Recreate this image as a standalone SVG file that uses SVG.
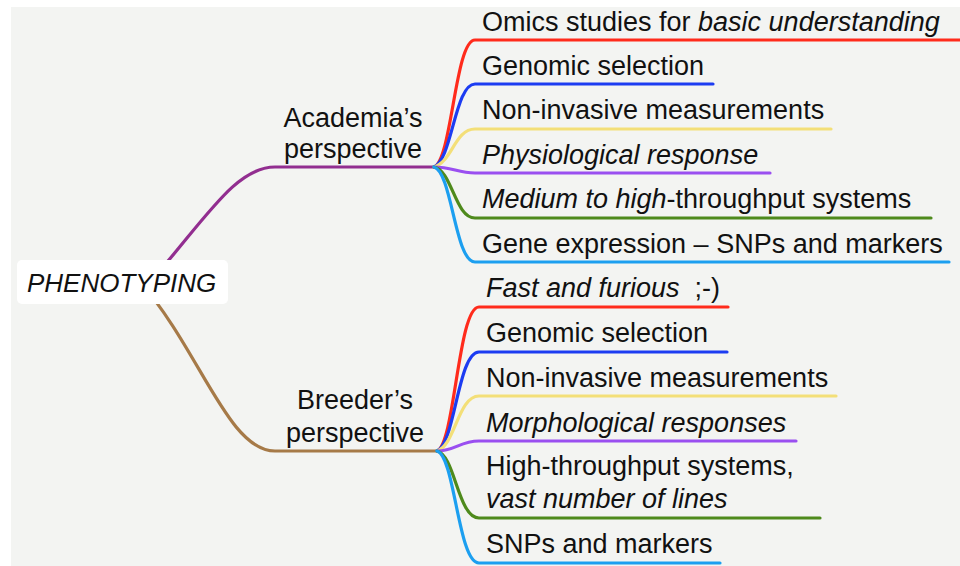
<svg xmlns="http://www.w3.org/2000/svg" width="960" height="566" viewBox="0 0 960 566">
  <style>
    text { font-family: "Liberation Sans", Arial, Helvetica, sans-serif; font-size: 27px; fill: #111; }
    .it { font-style: italic; }
    .mid { text-anchor: middle; }
    .root { font-size: 26px; }
    .link { fill: none; stroke-width: 3.2; stroke-linecap: round; stroke-linejoin: round; }
    .red { stroke: #ff2b1c; }
    .blue { stroke: #1c3cf2; }
    .yellow { stroke: #f3df78; }
    .violet { stroke: #9a4ff0; }
    .green { stroke: #4e8a1c; }
    .sky { stroke: #1c9ff0; }
  </style>

  <!-- canvas -->
  <rect width="960" height="566" fill="#ffffff"/>
  <rect x="11" y="7" width="949" height="559" fill="#f3f4f2"/>

  <!-- connectors -->
  <g id="connectors">
    <!-- root to perspectives -->
    <path class="link" stroke="#922e90" d="M 150 282 C 205 220, 235 167, 275 167 H 434"/>
    <path class="link" stroke="#a67a48" d="M 140 282 C 200 350, 228 451, 275 451 H 437"/>

    <!-- academia branches -->
    <path class="link red" d="M 434 167 C 452 160, 455 40, 475 40 H 960"/>
    <path class="link blue" d="M 434 167 C 452 160, 455 84, 475 84 H 713"/>
    <path class="link yellow" d="M 434 167 C 452 162, 455 129, 475 129 H 831"/>
    <path class="link violet" d="M 434 167 C 452 167, 458 173, 475 173 H 770"/>
    <path class="link green" d="M 434 167 C 452 170, 455 218, 475 218 H 931"/>
    <path class="link sky" d="M 434 167 C 452 172, 455 262, 475 262 H 949"/>

    <!-- breeder branches -->
    <path class="link red" d="M 437 451 C 455 444, 458 307, 479 307 H 728"/>
    <path class="link blue" d="M 437 451 C 455 444, 458 352, 479 352 H 727"/>
    <path class="link yellow" d="M 437 451 C 455 446, 458 396, 479 396 H 836"/>
    <path class="link violet" d="M 437 451 C 455 451, 460 441, 479 441 H 796"/>
    <path class="link green" d="M 437 451 C 455 455, 458 518, 479 518 H 820"/>
    <path class="link sky" d="M 437 451 C 455 456, 458 563, 479 563 H 720"/>
  </g>

  <!-- root -->
  <g id="root">
    <rect x="17" y="260" width="211" height="44" rx="5" fill="#ffffff"/>
    <text class="it root" x="27" y="292">PHENOTYPING</text>
  </g>

  <!-- perspectives -->
  <g id="academia">
    <text class="mid" x="353" y="127">Academia’s</text>
    <text class="mid" x="353" y="158">perspective</text>
  </g>
  <g id="breeder">
    <text class="mid" x="355" y="409">Breeder’s</text>
    <text class="mid" x="355" y="442">perspective</text>
  </g>

  <!-- academia topics -->
  <g id="a-omics"><text x="482" y="31">Omics studies for <tspan class="it">basic understanding</tspan></text></g>
  <g id="a-genomic"><text x="482" y="75">Genomic selection</text></g>
  <g id="a-noninvasive"><text x="482" y="119">Non-invasive measurements</text></g>
  <g id="a-physiological"><text class="it" x="482" y="164">Physiological response</text></g>
  <g id="a-throughput"><text x="482" y="208"><tspan class="it">Medium to high</tspan>-throughput systems</text></g>
  <g id="a-expression"><text x="482" y="253">Gene expression – SNPs and markers</text></g>

  <!-- breeder topics -->
  <g id="b-fast"><text x="486" y="297"><tspan class="it">Fast and furious</tspan><tspan dx="15">;-)</tspan></text></g>
  <g id="b-genomic"><text x="486" y="342">Genomic selection</text></g>
  <g id="b-noninvasive"><text x="486" y="387">Non-invasive measurements</text></g>
  <g id="b-morphological"><text class="it" x="486" y="432">Morphological responses</text></g>
  <g id="b-throughput">
    <text x="486" y="475">High-throughput systems,</text>
    <text class="it" x="486" y="508">vast number of lines</text>
  </g>
  <g id="b-snps"><text x="486" y="553">SNPs and markers</text></g>
</svg>
